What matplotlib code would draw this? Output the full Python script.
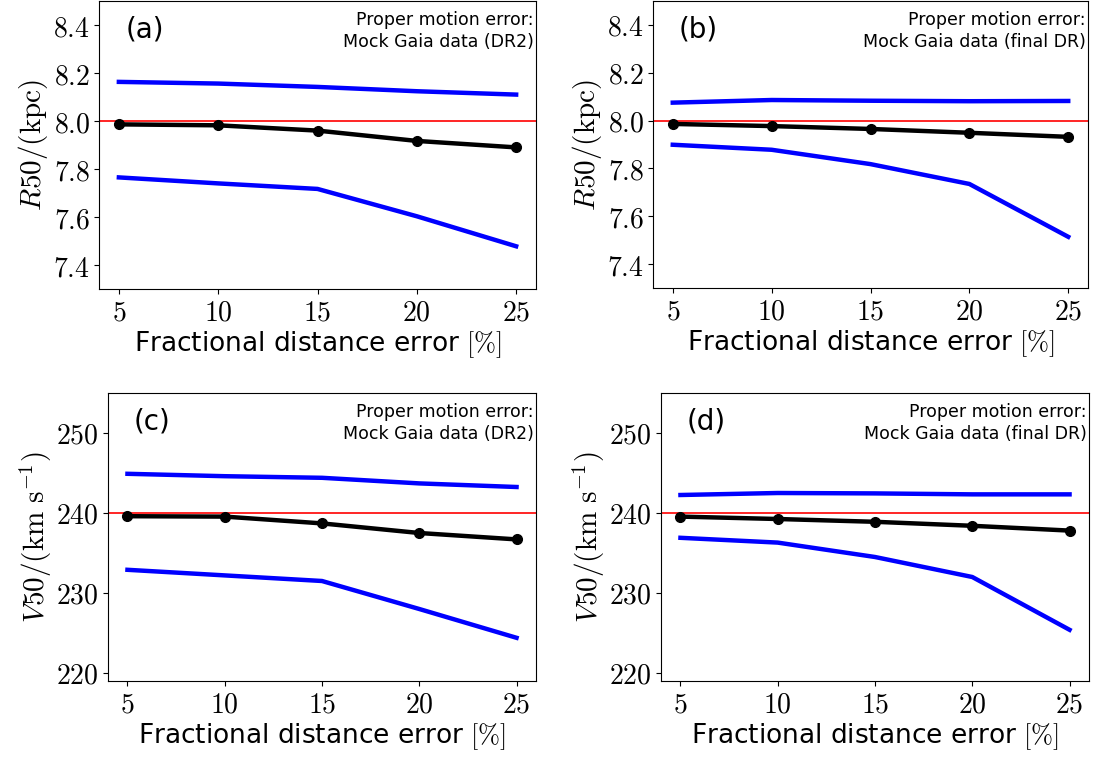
import numpy as np
import matplotlib
matplotlib.use('Agg')
import matplotlib.pyplot as plt

plt.rcParams['mathtext.fontset'] = 'cm'
plt.rcParams['font.family'] = ['DejaVu Sans']

# fractional distance error [%]
dist_err = [5, 10, 15, 20, 25]

# (a) R50, DR2 proper motion errors
r50_dr2_med = [7.986, 7.982, 7.960, 7.917, 7.890]
r50_dr2_hi = [8.163, 8.156, 8.142, 8.124, 8.110]
r50_dr2_lo = [7.765, 7.740, 7.717, 7.603, 7.478]

# (b) R50, final DR proper motion errors
r50_fin_med = [7.986, 7.977, 7.965, 7.949, 7.932]
r50_fin_hi = [8.075, 8.086, 8.083, 8.081, 8.082]
r50_fin_lo = [7.899, 7.878, 7.818, 7.735, 7.514]

# (c) V50, DR2
v50_dr2_med = [239.6, 239.55, 238.7, 237.5, 236.7]
v50_dr2_hi = [244.9, 244.6, 244.4, 243.7, 243.25]
v50_dr2_lo = [232.9, 232.2, 231.5, 228.0, 224.4]

# (d) V50, final DR
v50_fin_med = [239.55, 239.25, 238.9, 238.4, 237.8]
v50_fin_hi = [242.25, 242.5, 242.45, 242.33, 242.33]
v50_fin_lo = [236.9, 236.3, 234.5, 232.0, 225.4]

R_TRUE = 8.0
V_TRUE = 240.0

panels = [
    ('(a)', 'Mock Gaia data (DR2)', r50_dr2_med, r50_dr2_hi, r50_dr2_lo, R_TRUE,
     r'$R50/({\rm kpc})$', (7.3, 8.5), [7.4, 7.6, 7.8, 8.0, 8.2, 8.4],
     [99, 1, 536, 289]),
    ('(b)', 'Mock Gaia data (final DR)', r50_fin_med, r50_fin_hi, r50_fin_lo, R_TRUE,
     r'$R50/({\rm kpc})$', (7.3, 8.5), [7.4, 7.6, 7.8, 8.0, 8.2, 8.4],
     [653, 1, 1088, 288]),
    ('(c)', 'Mock Gaia data (DR2)', v50_dr2_med, v50_dr2_hi, v50_dr2_lo, V_TRUE,
     r'$V50/({\rm km\ s^{-1}})$', (219, 255), [220, 230, 240, 250],
     [108, 393, 536, 681]),
    ('(d)', 'Mock Gaia data (final DR)', v50_fin_med, v50_fin_hi, v50_fin_lo, V_TRUE,
     r'$V50/({\rm km\ s^{-1}})$', (219, 255), [220, 230, 240, 250],
     [661, 393, 1089, 681]),
]

W, H = 1096, 759
fig = plt.figure(figsize=(W / 100, H / 100), dpi=100)

for tag, note, med, hi, lo, true, ylab, ylim, yticks, box in panels:
    x0, y0, x1, y1 = box
    ax = fig.add_axes([x0 / W, (H - y1) / H, (x1 - x0) / W, (y1 - y0) / H])
    ax.axhline(true, color='red', lw=1.2, zorder=1)
    ax.plot(dist_err, hi, color='blue', lw=3.2, zorder=2)
    ax.plot(dist_err, lo, color='blue', lw=3.2, zorder=2)
    ax.plot(dist_err, med, color='black', lw=3.2, marker='o', ms=7, zorder=3)

    ax.set_xlim(4, 26)
    ax.set_ylim(*ylim)
    ax.set_xticks(dist_err)
    ax.set_xticklabels([f'${v}$' for v in dist_err], fontsize=20)
    ax.set_yticks(yticks)
    if isinstance(yticks[0], float):
        ax.set_yticklabels([f'${v:.1f}$' for v in yticks], fontsize=20)
    else:
        ax.set_yticklabels([f'${v}$' for v in yticks], fontsize=20)
    ax.tick_params(pad=3)
    ax.set_xlabel(r'Fractional distance error $[\%]$', fontsize=19, labelpad=2)
    ax.set_ylabel(ylab, fontsize=21, labelpad=2)

    ax.text(0.06, 0.95, tag, transform=ax.transAxes, fontsize=20,
            ha='left', va='top')
    ax.text(0.995, 0.965, 'Proper motion error:\n' + note, transform=ax.transAxes,
            fontsize=12.5, ha='right', va='top', linespacing=1.25)

fig.savefig('out.png', dpi=100, facecolor='white')
